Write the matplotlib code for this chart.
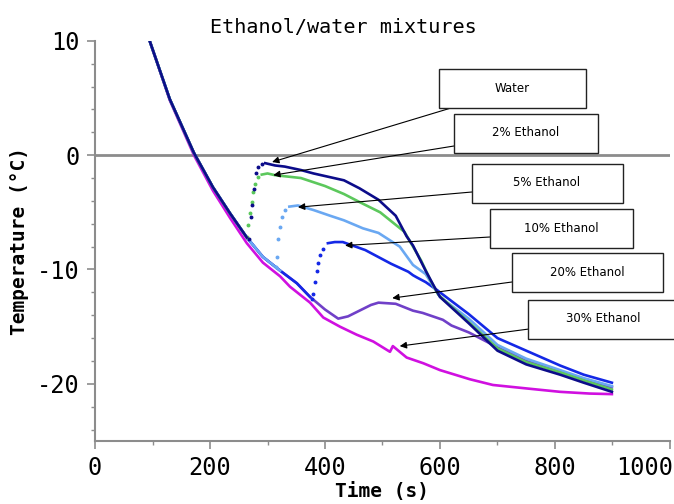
import numpy as np
import matplotlib
matplotlib.use("Agg")
import matplotlib.pyplot as plt
from matplotlib.patches import Rectangle
from matplotlib.ticker import MultipleLocator
import matplotlib.transforms as mtransforms

plt.rcParams["axes.unicode_minus"] = False

# shared cooling curve before freezing starts (all series overlap here)
cool_t = [95, 130, 172, 205, 235, 264, 292, 322, 351, 374, 400]
cool_T = [10, 4.9, 0.2, -2.8, -5.1, -7.2, -8.9, -10.1, -11.2, -12.4, -13.5]

# water
water_jump_t = [268, 271, 273, 276, 280, 284, 290]
water_jump_T = [-7.3, -5.4, -4.4, -3.0, -1.6, -1.05, -0.8]
water_t = [296, 313, 330, 358, 380, 433, 460, 493, 523, 542, 553, 575, 590, 600, 650, 700, 750, 809, 850, 899]
water_T = [-0.7, -0.9, -1.0, -1.3, -1.6, -2.2, -2.9, -3.9, -5.3, -7.1, -7.9, -10.1, -11.5, -12.4, -14.7, -17.1, -18.3, -19.2, -19.9, -20.7]

# 2% ethanol
eth2_jump_t = [264, 266, 270, 273, 275, 278, 284]
eth2_jump_T = [-7.2, -6.1, -5.1, -4.1, -3.2, -2.5, -1.9]
eth2_t = [290, 300, 313, 358, 400, 433, 460, 496, 538, 567, 583, 597, 650, 700, 750, 809, 850, 899]
eth2_T = [-1.7, -1.6, -1.75, -2.0, -2.7, -3.4, -4.1, -5.0, -6.7, -9.2, -10.9, -12.2, -14.6, -16.9, -18.1, -19.0, -19.7, -20.5]

# 5% ethanol
eth5_jump_t = [314, 316, 319, 322, 326, 330]
eth5_jump_T = [-9.8, -8.9, -7.3, -6.3, -5.4, -4.8]
eth5_t = [338, 353, 380, 409, 433, 466, 493, 530, 553, 575, 600, 650, 700, 750, 809, 850, 899]
eth5_T = [-4.5, -4.4, -4.8, -5.3, -5.7, -6.4, -6.8, -8.0, -9.6, -10.4, -12.4, -14.3, -16.6, -17.8, -18.8, -19.5, -20.2]

# 10% ethanol
eth10_jump_t = [378, 379, 383, 386, 388, 391, 397]
eth10_jump_T = [-12.6, -12.1, -11.1, -10.1, -9.4, -8.7, -8.2]
eth10_t = [405, 417, 431, 470, 500, 515, 545, 553, 560, 575, 595, 600, 650, 700, 750, 809, 850, 899]
eth10_T = [-7.7, -7.6, -7.6, -8.3, -9.1, -9.5, -10.2, -10.5, -10.7, -11.1, -11.8, -12.0, -13.9, -16.0, -17.1, -18.4, -19.2, -19.9]

# 20% ethanol
eth20_t = [423, 440, 460, 480, 493, 523, 553, 570, 605, 620, 650, 700, 750, 809, 850, 899]
eth20_T = [-14.3, -14.1, -13.6, -13.1, -12.9, -13.0, -13.6, -13.8, -14.4, -14.9, -15.5, -16.8, -18.0, -18.9, -19.6, -20.3]

# 30% ethanol
eth30_t = [95, 130, 172, 205, 235, 264, 292, 322, 339, 374, 397, 426, 455, 484, 513,
           518, 542, 571, 600, 652, 692, 750, 809, 860, 899]
eth30_T = [10, 4.8, 0.0, -3.1, -5.5, -7.7, -9.4, -10.6, -11.5, -12.9, -14.2, -15.0, -15.7, -16.3, -17.2,
           -16.7, -17.7, -18.2, -18.8, -19.6, -20.1, -20.4, -20.7, -20.85, -20.9]

labels = ["Water", "2% Ethanol", "5% Ethanol", "10% Ethanol", "20% Ethanol", "30% Ethanol"]
colors = ["#0c0c8a", "#5cc85c", "#6aa8f2", "#1428e6", "#7040c8", "#d010e0"]
# arrow targets (data) for each label
arrow_t = [308, 310, 353, 435, 517, 530]
arrow_T = [-0.6, -1.75, -4.55, -7.9, -12.5, -16.7]

fig = plt.figure(figsize=(6.74, 5.04), dpi=100)
ax = fig.add_axes([0.141, 0.125, 0.853, 0.794])

mono = "DejaVu Sans Mono"
lw = 1.9

# 30% and 20% first so the others sit on top
ax.plot(eth30_t, eth30_T, color=colors[5], lw=lw)
ax.plot(cool_t + eth20_t, cool_T + eth20_T, color=colors[4], lw=lw)

def draw(n, jt, jT, pt, pT, c):
    ax.plot(cool_t[:n], cool_T[:n], color=c, lw=lw)
    ax.plot(jt, jT, ls="none", marker="o", ms=1.8, color=c)
    ax.plot(pt, pT, color=c, lw=lw)

draw(10, eth10_jump_t, eth10_jump_T, eth10_t, eth10_T, colors[3])
draw(8, eth5_jump_t, eth5_jump_T, eth5_t, eth5_T, colors[2])
draw(6, eth2_jump_t, eth2_jump_T, eth2_t, eth2_T, colors[1])
draw(6, water_jump_t, water_jump_T, water_t, water_T, colors[0])

ax.axhline(0, color="#8c8c8c", lw=2, zorder=1)

ax.set_xlim(0, 1000)
ax.set_ylim(-25, 10)
ax.set_xticks([0, 200, 400, 600, 800, 1000])
ax.xaxis.set_minor_locator(MultipleLocator(100))
ax.set_yticks([-20, -10, 0, 10])
ax.yaxis.set_minor_locator(MultipleLocator(2))
for s in ["top", "right"]:
    ax.spines[s].set_visible(False)
for s in ["left", "bottom"]:
    ax.spines[s].set_color("#8c8c8c")
    ax.spines[s].set_linewidth(1.5)
ax.tick_params(which="major", length=6, width=1.2, color="#8c8c8c", labelsize=17, pad=5)
ax.tick_params(which="minor", length=3, width=1.0, color="#8c8c8c")
for lab in ax.get_xticklabels() + ax.get_yticklabels():
    lab.set_family(mono)
# last x label pushed inside the figure like the original
for tick in ax.xaxis.get_major_ticks():
    if tick.get_loc() == 1000:
        tick.label1.set_horizontalalignment("right")
        tick.label1.set_transform(tick.label1.get_transform() +
                                  mtransforms.ScaledTranslation(3 / 100, 0, fig.dpi_scale_trans))

ax.set_xlabel("Time (s)", family=mono, fontsize=14, fontweight="bold", labelpad=1)
ax.set_ylabel("Temperature (°C)", family=mono, fontsize=14, fontweight="bold", labelpad=6)
fig.text(0.51, 0.946, "Ethanol/water mixtures", family=mono, fontsize=14.5,
         ha="center", va="center")

# label boxes (figure pixels: center x, center y from top)
box_cx = [512, 526, 547, 561, 587, 603]
box_cy = [88, 133, 183, 228, 272, 319]
box_w = [147, 144, 151, 143, 151, 150]
box_h = 39
start_x = [451, 454, 472, 490, 512, 529]
start_y = [108, 146, 192, 237, 282, 329]
H = 504
for i, lab in enumerate(labels):
    x0 = box_cx[i] - box_w[i] / 2
    y0 = H - box_cy[i] - box_h / 2
    fig.patches.append(Rectangle((x0, y0), box_w[i], box_h, transform=None,
                                 facecolor="white", edgecolor="#222222", lw=1.0, zorder=5))
    fig.text(box_cx[i] / 674, 1 - box_cy[i] / H, lab, ha="center", va="center",
             fontsize=8.5, family="DejaVu Sans", zorder=6)
    ax.annotate("", xy=(arrow_t[i], arrow_T[i]), xycoords="data",
                xytext=(start_x[i], H - start_y[i]), textcoords="figure pixels",
                arrowprops=dict(arrowstyle="-|>", color="black", lw=0.8,
                                mutation_scale=10, shrinkA=0, shrinkB=0),
                annotation_clip=False)

fig.savefig("out.png", dpi=100)
